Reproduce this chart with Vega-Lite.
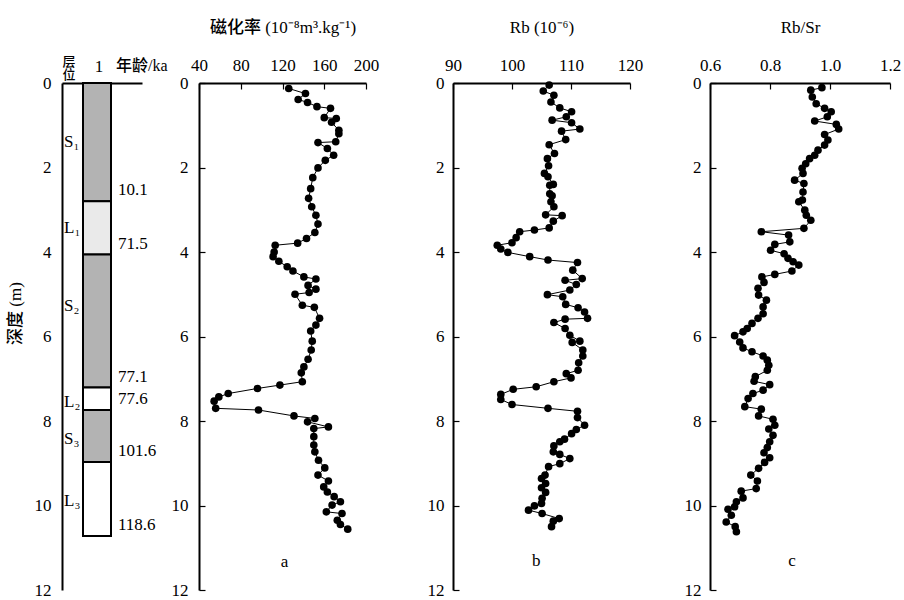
{
  "$schema": "https://vega.github.io/schema/vega-lite/v6.json",
  "background": "white",
  "padding": {"left": 6, "top": 18, "right": 5, "bottom": 0},
  "config": {
    "view": {"stroke": null},
    "font": "Liberation Serif",
    "axis": {
      "domainColor": "black", "domainWidth": 2, "tickColor": "black", "tickWidth": 1.2,
      "labelFont": "Liberation Serif", "labelFontSize": 17, "labelColor": "black",
      "labelFlush": false, "labelOverlap": false, "grid": false,
      "titleFont": "Liberation Serif, Noto Sans CJK SC", "titleFontSize": 17,
      "titleColor": "black", "titleFontWeight": 500
    },
    "text": {"font": "Liberation Serif", "fontSize": 17, "color": "black"}
  },
  "datasets": {
    "strat": [
      {"layer": "S₁", "top": 0, "bottom": 2.80, "kind": "S", "age": "10.1", "labelDepth": 1.39},
      {"layer": "L₁", "top": 2.80, "bottom": 4.06, "kind": "L1", "age": "71.5", "labelDepth": 3.44},
      {"layer": "S₂", "top": 4.06, "bottom": 7.21, "kind": "S", "age": "77.1", "labelDepth": 5.27},
      {"layer": "L₂", "top": 7.21, "bottom": 7.74, "kind": "L", "age": "77.6", "labelDepth": 7.54},
      {"layer": "S₃", "top": 7.74, "bottom": 8.97, "kind": "S", "age": "101.6", "labelDepth": 8.42},
      {"layer": "L₃", "top": 8.97, "bottom": 10.72, "kind": "L", "age": "118.6", "labelDepth": 9.9}
    ],
    "mag": [
      {"depth": 0.13, "chi": 126}, {"depth": 0.25, "chi": 142}, {"depth": 0.39, "chi": 135},
      {"depth": 0.46, "chi": 144}, {"depth": 0.56, "chi": 153}, {"depth": 0.60, "chi": 166},
      {"depth": 0.82, "chi": 160}, {"depth": 0.84, "chi": 171.5}, {"depth": 0.93, "chi": 167},
      {"depth": 1.12, "chi": 174}, {"depth": 1.20, "chi": 174}, {"depth": 1.39, "chi": 171},
      {"depth": 1.41, "chi": 154}, {"depth": 1.55, "chi": 163}, {"depth": 1.71, "chi": 169},
      {"depth": 1.83, "chi": 161}, {"depth": 2.01, "chi": 154}, {"depth": 2.24, "chi": 149},
      {"depth": 2.50, "chi": 147}, {"depth": 2.73, "chi": 145}, {"depth": 2.93, "chi": 148},
      {"depth": 3.13, "chi": 152}, {"depth": 3.34, "chi": 154}, {"depth": 3.54, "chi": 151},
      {"depth": 3.68, "chi": 143}, {"depth": 3.79, "chi": 134.5}, {"depth": 3.84, "chi": 113},
      {"depth": 4.00, "chi": 112}, {"depth": 4.11, "chi": 111}, {"depth": 4.22, "chi": 116.5},
      {"depth": 4.35, "chi": 124.5}, {"depth": 4.45, "chi": 130}, {"depth": 4.59, "chi": 140.5},
      {"depth": 4.64, "chi": 152}, {"depth": 4.79, "chi": 144.5}, {"depth": 4.88, "chi": 152},
      {"depth": 4.96, "chi": 145.5}, {"depth": 5.00, "chi": 132}, {"depth": 5.26, "chi": 139},
      {"depth": 5.31, "chi": 150.5}, {"depth": 5.57, "chi": 155.5}, {"depth": 5.73, "chi": 152},
      {"depth": 5.87, "chi": 147}, {"depth": 6.11, "chi": 148.5}, {"depth": 6.32, "chi": 147.5},
      {"depth": 6.54, "chi": 144.5}, {"depth": 6.72, "chi": 140.5}, {"depth": 6.86, "chi": 138},
      {"depth": 7.07, "chi": 139}, {"depth": 7.15, "chi": 117.5}, {"depth": 7.23, "chi": 96},
      {"depth": 7.35, "chi": 68}, {"depth": 7.43, "chi": 59}, {"depth": 7.53, "chi": 54.5},
      {"depth": 7.70, "chi": 56}, {"depth": 7.74, "chi": 97}, {"depth": 7.88, "chi": 131},
      {"depth": 7.94, "chi": 151}, {"depth": 8.02, "chi": 144}, {"depth": 8.14, "chi": 164},
      {"depth": 8.18, "chi": 150}, {"depth": 8.37, "chi": 150}, {"depth": 8.57, "chi": 150},
      {"depth": 8.73, "chi": 151}, {"depth": 8.93, "chi": 154.5}, {"depth": 9.11, "chi": 160.5},
      {"depth": 9.28, "chi": 154}, {"depth": 9.42, "chi": 164}, {"depth": 9.56, "chi": 159.5},
      {"depth": 9.68, "chi": 163}, {"depth": 9.79, "chi": 169.5}, {"depth": 9.91, "chi": 175.5},
      {"depth": 9.99, "chi": 167.5}, {"depth": 10.15, "chi": 162}, {"depth": 10.19, "chi": 177},
      {"depth": 10.35, "chi": 172.5}, {"depth": 10.45, "chi": 175.5}, {"depth": 10.56, "chi": 182.5}
    ],
    "rb": [
      {"depth": 0.05, "rb": 106.3}, {"depth": 0.19, "rb": 105.3}, {"depth": 0.29, "rb": 107.1},
      {"depth": 0.45, "rb": 106.6}, {"depth": 0.59, "rb": 108.1}, {"depth": 0.68, "rb": 110.1},
      {"depth": 0.80, "rb": 109.2}, {"depth": 0.88, "rb": 106.8}, {"depth": 0.94, "rb": 110.1},
      {"depth": 1.09, "rb": 111.5}, {"depth": 1.14, "rb": 108.4}, {"depth": 1.34, "rb": 109.1},
      {"depth": 1.46, "rb": 106.3}, {"depth": 1.67, "rb": 107.2}, {"depth": 1.79, "rb": 106},
      {"depth": 1.96, "rb": 106.2}, {"depth": 2.14, "rb": 105.5}, {"depth": 2.22, "rb": 106.1},
      {"depth": 2.40, "rb": 107}, {"depth": 2.42, "rb": 106.4}, {"depth": 2.62, "rb": 106.4},
      {"depth": 2.67, "rb": 106.8}, {"depth": 2.81, "rb": 106.6}, {"depth": 2.93, "rb": 107.1},
      {"depth": 3.12, "rb": 105.7}, {"depth": 3.14, "rb": 108.5}, {"depth": 3.27, "rb": 107},
      {"depth": 3.43, "rb": 106.3}, {"depth": 3.48, "rb": 103.8}, {"depth": 3.52, "rb": 101.3},
      {"depth": 3.66, "rb": 100.7}, {"depth": 3.78, "rb": 100}, {"depth": 3.84, "rb": 97.5},
      {"depth": 3.93, "rb": 98.1}, {"depth": 4.01, "rb": 99.3}, {"depth": 4.11, "rb": 103},
      {"depth": 4.19, "rb": 106.1}, {"depth": 4.25, "rb": 111.1}, {"depth": 4.43, "rb": 110.3},
      {"depth": 4.63, "rb": 111.9}, {"depth": 4.67, "rb": 109}, {"depth": 4.77, "rb": 110.9},
      {"depth": 4.90, "rb": 109.8}, {"depth": 5.01, "rb": 106}, {"depth": 5.06, "rb": 108.6},
      {"depth": 5.24, "rb": 109.1}, {"depth": 5.32, "rb": 111.2}, {"depth": 5.42, "rb": 112.3},
      {"depth": 5.57, "rb": 112.8}, {"depth": 5.59, "rb": 109}, {"depth": 5.67, "rb": 107.1},
      {"depth": 5.81, "rb": 109}, {"depth": 5.97, "rb": 109.8}, {"depth": 6.11, "rb": 111.5},
      {"depth": 6.14, "rb": 110.2}, {"depth": 6.32, "rb": 112}, {"depth": 6.46, "rb": 112},
      {"depth": 6.62, "rb": 111.3}, {"depth": 6.80, "rb": 111.2}, {"depth": 6.88, "rb": 109.2},
      {"depth": 6.98, "rb": 110}, {"depth": 7.07, "rb": 107.1}, {"depth": 7.19, "rb": 104.1},
      {"depth": 7.25, "rb": 100.2}, {"depth": 7.37, "rb": 98.1}, {"depth": 7.49, "rb": 98.1},
      {"depth": 7.61, "rb": 100}, {"depth": 7.70, "rb": 106.1}, {"depth": 7.77, "rb": 111.1},
      {"depth": 7.92, "rb": 111.1}, {"depth": 8.10, "rb": 112.3}, {"depth": 8.20, "rb": 110.9},
      {"depth": 8.30, "rb": 110.1}, {"depth": 8.43, "rb": 108.9}, {"depth": 8.49, "rb": 108.1},
      {"depth": 8.59, "rb": 107.1}, {"depth": 8.73, "rb": 107}, {"depth": 8.79, "rb": 108.1},
      {"depth": 8.89, "rb": 109.8}, {"depth": 9.01, "rb": 108.1}, {"depth": 9.08, "rb": 106.2},
      {"depth": 9.28, "rb": 105.6}, {"depth": 9.36, "rb": 105}, {"depth": 9.48, "rb": 105.7},
      {"depth": 9.58, "rb": 105}, {"depth": 9.69, "rb": 105.7}, {"depth": 9.83, "rb": 105.1},
      {"depth": 9.95, "rb": 105}, {"depth": 10.01, "rb": 103.8}, {"depth": 10.11, "rb": 102.8},
      {"depth": 10.19, "rb": 105.1}, {"depth": 10.31, "rb": 108}, {"depth": 10.37, "rb": 107},
      {"depth": 10.50, "rb": 106.7}
    ],
    "rbsr": [
      {"depth": 0.11, "ratio": 0.973}, {"depth": 0.17, "ratio": 0.936}, {"depth": 0.33, "ratio": 0.941},
      {"depth": 0.49, "ratio": 0.954}, {"depth": 0.60, "ratio": 0.982}, {"depth": 0.68, "ratio": 1.004},
      {"depth": 0.80, "ratio": 0.991}, {"depth": 0.90, "ratio": 0.949}, {"depth": 0.98, "ratio": 1.021},
      {"depth": 1.09, "ratio": 1.029}, {"depth": 1.22, "ratio": 0.982}, {"depth": 1.35, "ratio": 0.993},
      {"depth": 1.47, "ratio": 0.982}, {"depth": 1.59, "ratio": 0.960}, {"depth": 1.71, "ratio": 0.949},
      {"depth": 1.79, "ratio": 0.932}, {"depth": 1.91, "ratio": 0.919}, {"depth": 2.02, "ratio": 0.907},
      {"depth": 2.14, "ratio": 0.910}, {"depth": 2.30, "ratio": 0.882}, {"depth": 2.38, "ratio": 0.913},
      {"depth": 2.58, "ratio": 0.910}, {"depth": 2.77, "ratio": 0.908}, {"depth": 2.81, "ratio": 0.896},
      {"depth": 3.01, "ratio": 0.916}, {"depth": 3.13, "ratio": 0.921}, {"depth": 3.25, "ratio": 0.936},
      {"depth": 3.44, "ratio": 0.913}, {"depth": 3.52, "ratio": 0.771}, {"depth": 3.60, "ratio": 0.862},
      {"depth": 3.76, "ratio": 0.866}, {"depth": 3.82, "ratio": 0.816}, {"depth": 3.96, "ratio": 0.802},
      {"depth": 4.04, "ratio": 0.847}, {"depth": 4.15, "ratio": 0.860}, {"depth": 4.23, "ratio": 0.877},
      {"depth": 4.31, "ratio": 0.896}, {"depth": 4.45, "ratio": 0.873}, {"depth": 4.53, "ratio": 0.816},
      {"depth": 4.59, "ratio": 0.773}, {"depth": 4.72, "ratio": 0.780}, {"depth": 4.86, "ratio": 0.760},
      {"depth": 5.02, "ratio": 0.762}, {"depth": 5.14, "ratio": 0.788}, {"depth": 5.30, "ratio": 0.777},
      {"depth": 5.46, "ratio": 0.777}, {"depth": 5.57, "ratio": 0.760}, {"depth": 5.69, "ratio": 0.740},
      {"depth": 5.81, "ratio": 0.724}, {"depth": 5.89, "ratio": 0.710}, {"depth": 5.98, "ratio": 0.682},
      {"depth": 6.13, "ratio": 0.699}, {"depth": 6.27, "ratio": 0.710}, {"depth": 6.36, "ratio": 0.740},
      {"depth": 6.46, "ratio": 0.777}, {"depth": 6.56, "ratio": 0.791}, {"depth": 6.68, "ratio": 0.796},
      {"depth": 6.80, "ratio": 0.791}, {"depth": 6.95, "ratio": 0.751}, {"depth": 7.06, "ratio": 0.747},
      {"depth": 7.14, "ratio": 0.799}, {"depth": 7.27, "ratio": 0.777}, {"depth": 7.35, "ratio": 0.743},
      {"depth": 7.47, "ratio": 0.727}, {"depth": 7.66, "ratio": 0.716}, {"depth": 7.72, "ratio": 0.771},
      {"depth": 7.88, "ratio": 0.762}, {"depth": 7.96, "ratio": 0.810}, {"depth": 8.10, "ratio": 0.816},
      {"depth": 8.19, "ratio": 0.796}, {"depth": 8.34, "ratio": 0.810}, {"depth": 8.49, "ratio": 0.799},
      {"depth": 8.63, "ratio": 0.791}, {"depth": 8.75, "ratio": 0.780}, {"depth": 8.87, "ratio": 0.799},
      {"depth": 8.98, "ratio": 0.782}, {"depth": 9.12, "ratio": 0.762}, {"depth": 9.28, "ratio": 0.736},
      {"depth": 9.42, "ratio": 0.758}, {"depth": 9.60, "ratio": 0.754}, {"depth": 9.66, "ratio": 0.704},
      {"depth": 9.82, "ratio": 0.710}, {"depth": 9.91, "ratio": 0.688}, {"depth": 10.03, "ratio": 0.682},
      {"depth": 10.09, "ratio": 0.660}, {"depth": 10.23, "ratio": 0.671}, {"depth": 10.39, "ratio": 0.654},
      {"depth": 10.50, "ratio": 0.684}, {"depth": 10.62, "ratio": 0.688}
    ]
  },
  "bounds": "full",
  "spacing": 48,
  "hconcat": [
    {
      "bounds": "flush",
      "spacing": 57,
      "hconcat": [
        {
          "width": 80,
          "height": 507,
          "layer": [
            {
              "data": {"name": "strat"},
              "mark": {"type": "rect", "stroke": "black", "strokeWidth": 2},
              "encoding": {
                "x": {"datum": 1.05, "type": "quantitative", "scale": {"domain": [0, 4], "nice": false, "zero": false},
                      "axis": {"orient": "top", "labels": false, "ticks": false, "title": null}},
                "x2": {"datum": 2.45},
                "y": {"field": "top", "type": "quantitative",
                      "scale": {"domain": [0, 12], "nice": false, "zero": false, "reverse": true},
                      "axis": {"orient": "left", "values": [0, 2, 4, 6, 8, 10, 12], "ticks": false, "labelPadding": 11,
                               "title": "深度 (m)", "titlePadding": 10, "titleY": 230}},
                "y2": {"field": "bottom"},
                "fill": {"field": "kind", "type": "nominal",
                         "scale": {"domain": ["S", "L1", "L"], "range": ["#b3b3b3", "#eaeaea", "#ffffff"]},
                         "legend": null}
              }
            },
            {
              "data": {"name": "strat"},
              "mark": {"type": "text", "align": "left", "baseline": "middle"},
              "encoding": {
                "x": {"datum": 0.1, "type": "quantitative"},
                "y": {"field": "labelDepth", "type": "quantitative"},
                "text": {"field": "layer", "type": "nominal"}
              }
            },
            {
              "data": {"name": "strat"},
              "mark": {"type": "text", "align": "left", "baseline": "middle", "dy": -11},
              "encoding": {
                "x": {"datum": 2.8, "type": "quantitative"},
                "y": {"field": "bottom", "type": "quantitative"},
                "text": {"field": "age", "type": "nominal"}
              }
            },
            {
              "data": {"values": [{"t": "1", "depth": -0.37}]},
              "mark": {"type": "text", "align": "center", "baseline": "middle"},
              "encoding": {
                "x": {"datum": 1.85, "type": "quantitative"},
                "y": {"field": "depth", "type": "quantitative"},
                "text": {"field": "t", "type": "nominal"}
              }
            },
            {
              "data": {"values": [{"t": "年龄/ka", "depth": -0.41}]},
              "mark": {"type": "text", "align": "left", "baseline": "middle", "font": "Liberation Serif, Noto Sans CJK SC", "fontSize": 16, "fontWeight": 500},
              "encoding": {
                "x": {"datum": 2.7, "type": "quantitative"},
                "y": {"field": "depth", "type": "quantitative"},
                "text": {"field": "t", "type": "nominal"}
              }
            },
            {
              "data": {"values": [{"t": "层\n位", "depth": -0.5}]},
              "mark": {"type": "text", "align": "center", "baseline": "middle", "lineBreak": "\n", "lineHeight": 13, "font": "Noto Sans CJK SC", "fontSize": 13, "fontWeight": 500},
              "encoding": {
                "x": {"datum": 0.35, "type": "quantitative"},
                "y": {"field": "depth", "type": "quantitative"},
                "text": {"field": "t", "type": "nominal"}
              }
            }
          ]
        },
        {
          "width": 167,
          "height": 507,
          "layer": [
            {
              "data": {"name": "mag"},
              "mark": {"type": "line", "color": "black", "strokeWidth": 1},
              "encoding": {
                "x": {"field": "chi", "type": "quantitative", "scale": {"domain": [40, 200], "nice": false, "zero": false},
                      "axis": {"orient": "top", "values": [40, 80, 120, 160, 200], "tickSize": -6, "labelPadding": 15,
                               "title": "磁化率 (10⁻⁸m³.kg⁻¹)", "titlePadding": 20}},
                "y": {"field": "depth", "type": "quantitative", "scale": {"domain": [0, 12], "nice": false, "zero": false, "reverse": true},
                      "axis": {"orient": "left", "values": [0, 2, 4, 6, 8, 10, 12], "tickSize": -6, "labelPadding": 17, "title": null}},
                "order": {"field": "depth", "type": "quantitative"}
              }
            },
            {
              "data": {"name": "mag"},
              "mark": {"type": "point", "filled": true, "color": "black", "opacity": 1, "size": 58},
              "encoding": {
                "x": {"field": "chi", "type": "quantitative"},
                "y": {"field": "depth", "type": "quantitative"}
              }
            },
            {
              "data": {"values": [{"t": "a", "v": 122, "depth": 11.34}]},
              "mark": {"type": "text", "align": "center", "baseline": "middle"},
              "encoding": {
                "x": {"field": "v", "type": "quantitative"},
                "y": {"field": "depth", "type": "quantitative"},
                "text": {"field": "t", "type": "nominal"}
              }
            }
          ]
        }
      ]
    },
    {
      "bounds": "flush",
      "spacing": 80,
      "hconcat": [
        {
          "width": 177,
          "height": 507,
          "layer": [
            {
              "data": {"name": "rb"},
              "mark": {"type": "line", "color": "black", "strokeWidth": 1},
              "encoding": {
                "x": {"field": "rb", "type": "quantitative", "scale": {"domain": [90, 120], "nice": false, "zero": false},
                      "axis": {"orient": "top", "values": [90, 100, 110, 120], "tickSize": -6, "labelPadding": 15,
                               "title": "Rb (10⁻⁶)", "titlePadding": 20}},
                "y": {"field": "depth", "type": "quantitative", "scale": {"domain": [0, 12], "nice": false, "zero": false, "reverse": true},
                      "axis": {"orient": "left", "values": [0, 2, 4, 6, 8, 10, 12], "tickSize": -6, "labelPadding": 15, "title": null}},
                "order": {"field": "depth", "type": "quantitative"}
              }
            },
            {
              "data": {"name": "rb"},
              "mark": {"type": "point", "filled": true, "color": "black", "opacity": 1, "size": 58},
              "encoding": {
                "x": {"field": "rb", "type": "quantitative"},
                "y": {"field": "depth", "type": "quantitative"}
              }
            },
            {
              "data": {"values": [{"t": "b", "v": 104.1, "depth": 11.32}]},
              "mark": {"type": "text", "align": "center", "baseline": "middle"},
              "encoding": {
                "x": {"field": "v", "type": "quantitative"},
                "y": {"field": "depth", "type": "quantitative"},
                "text": {"field": "t", "type": "nominal"}
              }
            }
          ]
        },
        {
          "width": 180,
          "height": 507,
          "layer": [
            {
              "data": {"name": "rbsr"},
              "mark": {"type": "line", "color": "black", "strokeWidth": 1},
              "encoding": {
                "x": {"field": "ratio", "type": "quantitative", "scale": {"domain": [0.6, 1.2], "nice": false, "zero": false},
                      "axis": {"orient": "top", "values": [0.6, 0.8, 1, 1.2], "tickSize": -6, "labelPadding": 15,
                               "title": "Rb/Sr", "titlePadding": 20}},
                "y": {"field": "depth", "type": "quantitative", "scale": {"domain": [0, 12], "nice": false, "zero": false, "reverse": true},
                      "axis": {"orient": "left", "values": [0, 2, 4, 6, 8, 10, 12], "tickSize": -6, "labelPadding": 15, "title": null}},
                "order": {"field": "depth", "type": "quantitative"}
              }
            },
            {
              "data": {"name": "rbsr"},
              "mark": {"type": "point", "filled": true, "color": "black", "opacity": 1, "size": 58},
              "encoding": {
                "x": {"field": "ratio", "type": "quantitative"},
                "y": {"field": "depth", "type": "quantitative"}
              }
            },
            {
              "data": {"values": [{"t": "c", "v": 0.873, "depth": 11.31}]},
              "mark": {"type": "text", "align": "center", "baseline": "middle"},
              "encoding": {
                "x": {"field": "v", "type": "quantitative"},
                "y": {"field": "depth", "type": "quantitative"},
                "text": {"field": "t", "type": "nominal"}
              }
            }
          ]
        }
      ]
    }
  ]
}
